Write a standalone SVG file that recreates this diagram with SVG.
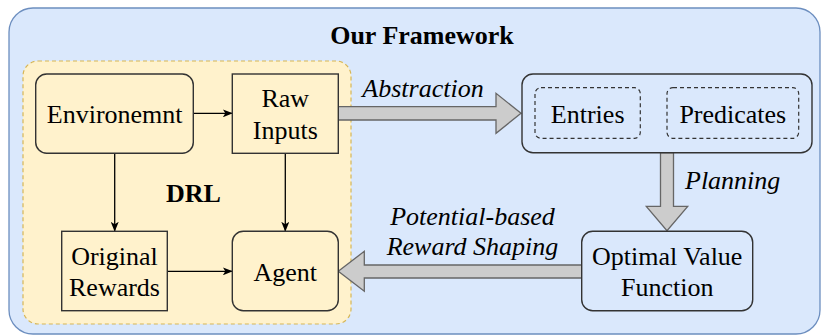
<svg xmlns="http://www.w3.org/2000/svg" width="822" height="336" viewBox="0 0 822 336">
<defs>
<marker id="arr" viewBox="0 0 10 8" refX="9.5" refY="4" markerWidth="10" markerHeight="8" markerUnits="userSpaceOnUse" orient="auto">
<path d="M0,0 L10,4 L0,8 L2.5,4 Z" fill="#000"/>
</marker>
<style>
text{font-family:'Liberation Serif','DejaVu Serif',serif;font-size:26px;fill:#000;text-anchor:middle}
.b{font-weight:bold}
.i{font-style:italic}
.box{stroke:#333;stroke-width:1.4}
.y{fill:#fff2cc}
.bl{fill:#dae8fc}
.dash{fill:none;stroke:#333;stroke-width:1.2;stroke-dasharray:4 3}
.line{stroke:#000;stroke-width:1.3;fill:none;marker-end:url(#arr)}
.big{fill:#cccccc;stroke:#666;stroke-width:1.3}
</style>
</defs>
<g id="framework">
<rect x="9" y="8" width="811" height="326" rx="24" fill="#dae8fc" stroke="#6c8ebf" stroke-width="1.3"/>
<text class="b" x="422" y="44">Our Framework</text>
</g>
<g id="drl">
<rect x="23" y="61" width="328" height="263" rx="15" fill="#fff2cc" stroke="#d6b656" stroke-width="1.2" stroke-dasharray="4 3"/>
<text class="b" x="193.5" y="202">DRL</text>
</g>
<g id="connectors">
<line class="line" x1="193.5" y1="113.3" x2="232.3" y2="113.3"/>
<line class="line" x1="114.7" y1="153.3" x2="114.7" y2="231.3"/>
<line class="line" x1="285.3" y1="153.3" x2="285.3" y2="231.3"/>
<line class="line" x1="167.3" y1="271.3" x2="232.3" y2="271.3"/>
<path class="big" d="M338.3,106.7 H496 V93.3 L521,113.3 L496,133.3 V120 H338.3 Z"/>
<text class="i" x="423" y="96.7">Abstraction</text>
<path class="big" d="M660.5,152.7 V206.3 H646.3 L667,230.7 L687.7,206.3 H673.5 V152.7 Z"/>
<text class="i" x="685" y="188.7" style="text-anchor:start">Planning</text>
<path class="big" d="M581.7,265 H364.3 V251.3 L338.3,271.3 L364.3,291.3 V278 H581.7 Z"/>
<text class="i" x="472.5" y="225">Potential-based</text>
<text class="i" x="472.5" y="255">Reward Shaping</text>
</g>
<g id="environment">
<rect class="box y" x="35.7" y="74" width="157.6" height="79.3" rx="11"/>
<text x="114.7" y="122.7">Environemnt</text>
</g>
<g id="raw-inputs">
<rect class="box y" x="232.3" y="74" width="106" height="79.3"/>
<text x="285.3" y="107.3">Raw</text>
<text x="285.3" y="138.5">Inputs</text>
</g>
<g id="original-rewards">
<rect class="box y" x="61.7" y="231.3" width="105.6" height="79.4"/>
<text x="114.5" y="264.7">Original</text>
<text x="114.5" y="296.3">Rewards</text>
</g>
<g id="agent">
<rect class="box y" x="232.3" y="231.3" width="106" height="79.4" rx="11"/>
<text x="285.3" y="281.3">Agent</text>
</g>
<g id="abstraction-box">
<rect class="box bl" x="522" y="74" width="290" height="78.7" rx="11"/>
</g>
<g id="entries">
<rect class="dash" x="535" y="87.7" width="105.3" height="50.6" rx="6"/>
<text x="587.7" y="122.7">Entries</text>
</g>
<g id="predicates">
<rect class="dash" x="667" y="87.7" width="131.7" height="50.6" rx="6"/>
<text x="732.8" y="122.7">Predicates</text>
</g>
<g id="optimal-value-function">
<rect class="box bl" x="581.7" y="231.3" width="171" height="79.4" rx="11"/>
<text x="667.2" y="264.7">Optimal Value</text>
<text x="667.2" y="296.3">Function</text>
</g>
</svg>
